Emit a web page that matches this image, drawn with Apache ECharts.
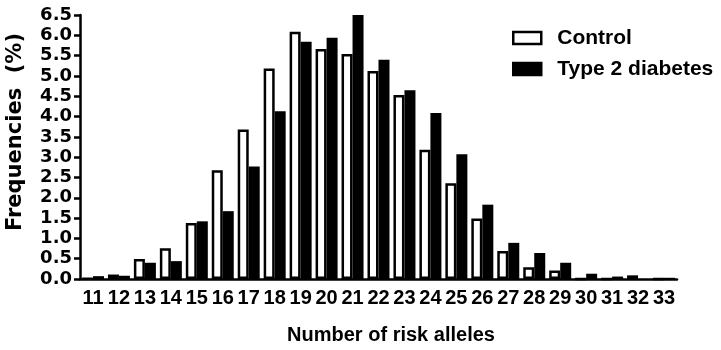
<!DOCTYPE html>
<html>
<head>
<meta charset="utf-8">
<script src="https://cdn.jsdelivr.net/npm/echarts@6/dist/echarts.min.js"></script>
<style>
html,body{margin:0;padding:0;background:#fff;}
#c{width:721px;height:350px;}
</style>
</head>
<body>
<div id="c"></div>
<script>
var categories = ['11','12','13','14','15','16','17','18','19','20','21','22','23','24','25','26','27','28','29','30','31','32','33'];
var controlValues = [0.01, 0.11, 0.49, 0.76, 1.38, 2.68, 3.68, 5.18, 6.09, 5.66, 5.54, 5.12, 4.53, 3.18, 2.36, 1.49, 0.69, 0.29, 0.21, 0, 0, 0.09, 0];
var t2dValues = [0.07, 0.08, 0.40, 0.44, 1.42, 1.67, 2.77, 4.13, 5.84, 5.94, 6.5, 5.40, 4.65, 4.09, 3.07, 1.83, 0.89, 0.64, 0.40, 0.13, 0.06, 0, 0.03];
var seriesNames = ['Control', 'Type 2 diabetes'];
var yTitle = 'Frequencies  (%)';
var xTitle = 'Number of risk alleles';

var chart = echarts.init(document.getElementById('c'));
var bold = 'bold';
chart.setOption({
  animation: false,
  backgroundColor: '#fff',
  grid: {left: 80, right: 44, top: 15, bottom: 71},
  legend: {
    orient: 'vertical',
    left: 507,
    top: 22,
    itemWidth: 28,
    itemHeight: 12,
    itemGap: 9,
    icon: 'rect',
    textStyle: {fontFamily: 'Liberation Sans', fontWeight: bold, fontSize: 21, color: '#000', lineHeight: 22, padding: [0, 0, 0, 11]},
    data: [
      {name: seriesNames[0], itemStyle: {color: '#fff', borderColor: '#000', borderWidth: 2.5}},
      {name: seriesNames[1], itemStyle: {color: '#000', borderColor: '#000', borderWidth: 2.5}}
    ]
  },
  xAxis: {
    type: 'category',
    data: categories,
    boundaryGap: true,
    axisLine: {lineStyle: {color: '#000', width: 2.5}},
    axisTick: {alignWithLabel: true, length: 7, lineStyle: {color: '#000', width: 2.5}},
    axisLabel: {interval: 0, margin: 9, fontFamily: 'Liberation Sans', fontWeight: bold, fontSize: 20, color: '#000'},
    splitLine: {show: false}
  },
  yAxis: {
    type: 'value',
    min: 0,
    max: 6.5,
    interval: 0.5,
    axisLine: {show: true, lineStyle: {color: '#000', width: 2.5}},
    axisTick: {show: true, length: 6, lineStyle: {color: '#000', width: 2.5}},
    axisLabel: {margin: 8, fontFamily: 'DejaVu Sans', fontWeight: bold, fontSize: 18, color: '#000',
      formatter: function (v) { return v.toFixed(1); }},
    splitLine: {show: false}
  },
  graphic: [
    {type: 'text', x: 16, y: 132, rotation: Math.PI / 2,
      style: {text: yTitle, fontFamily: 'DejaVu Sans', fontWeight: bold, fontSize: 21, fill: '#000', align: 'center', verticalAlign: 'middle'}},
    {type: 'text', x: 391, y: 335,
      style: {text: xTitle, fontFamily: 'Liberation Sans', fontWeight: bold, fontSize: 20, fill: '#000', align: 'center', verticalAlign: 'middle'}}
  ],
  series: [
    {name: seriesNames[0], type: 'bar', data: controlValues, barWidth: 11, barGap: '0%',
      itemStyle: {color: '#fff', borderColor: '#000', borderWidth: 2.5}},
    {name: seriesNames[1], type: 'bar', data: t2dValues, barWidth: 11, barGap: '0%',
      itemStyle: {color: '#000'}}
  ]
});
</script>
</body>
</html>
